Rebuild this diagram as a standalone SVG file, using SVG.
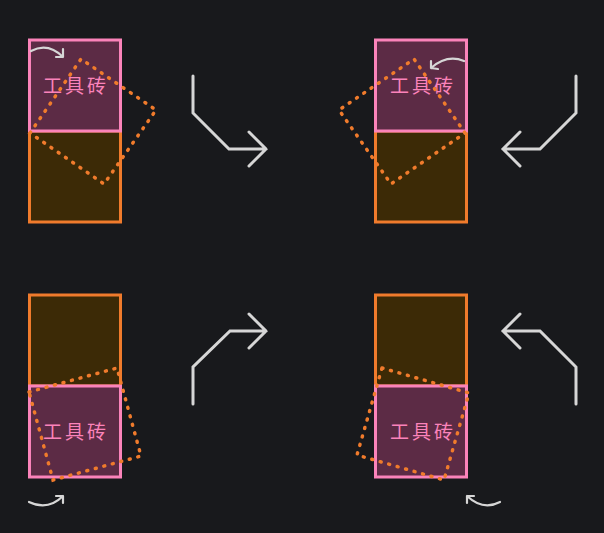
<svg xmlns="http://www.w3.org/2000/svg" width="604" height="533" viewBox="0 0 604 533">
<style>
.bg{fill:#18191c}
.pink{fill:#5c2b45;stroke:#fb83ba;stroke-width:3}
.orange{fill:#3c2a06;stroke:#f07b2c;stroke-width:3}
.dot{fill:none;stroke:#f07b2c;stroke-width:3.5;stroke-linecap:round;stroke-dasharray:1 7.8}
.lbl{fill:#fb83ba;font-family:"Noto Sans CJK SC","Noto Sans",sans-serif;font-size:19px;letter-spacing:3px;text-anchor:middle}
.big{fill:none;stroke:#d6d6d6;stroke-width:3;stroke-linecap:round;stroke-linejoin:miter}
.small{fill:none;stroke:#d6d6d6;stroke-width:2.2;stroke-linecap:round;stroke-linejoin:round}
</style>
<rect class="bg" x="0" y="0" width="604" height="533"/>
<g id="tile-top-left">
<rect class="orange" x="29.5" y="131" width="91" height="91"/>
<rect class="pink" x="29.5" y="40" width="91" height="91"/>
<text class="lbl" x="76" y="93">工具砖</text>
<polygon class="dot" points="30,133 81,59 156,110 104,184"/>
<path class="small" d="M31,51 Q48,42 63,57 M63,49 L63,57 L56,57"/>
</g>
<g id="tile-top-right">
<rect class="orange" x="375.5" y="131" width="91" height="91"/>
<rect class="pink" x="375.5" y="40" width="91" height="91"/>
<text class="lbl" x="423" y="93">工具砖</text>
<polygon class="dot" points="465,133 414,59 339,110 391,184"/>
<path class="small" d="M464,61 Q447,54 431,68 M431,61 L431,68 L438,69"/>
</g>
<g id="tile-bottom-left">
<rect class="orange" x="29.5" y="295" width="91" height="91"/>
<rect class="pink" x="29.5" y="386" width="91" height="91"/>
<text class="lbl" x="76" y="439">工具砖</text>
<polygon class="dot" points="29,392 117,368 141,456 53,480"/>
<path class="small" d="M29,502 Q48,511 63,496 M56,496 L63,496 L63,503"/>
</g>
<g id="tile-bottom-right">
<rect class="orange" x="375.5" y="295" width="91" height="91"/>
<rect class="pink" x="375.5" y="386" width="91" height="91"/>
<text class="lbl" x="423" y="439">工具砖</text>
<polygon class="dot" points="382,368 469,393 444,480 357,455"/>
<path class="small" d="M500,502 Q483,511 467,496 M474,496 L467,496 L467,503"/>
</g>
<g id="connectors">
<path class="big" d="M193,76 L193,113 L229,149 L266,149 M249,132 L266,149 L249,166"/>
<path class="big" d="M576,76 L576,113 L540,149 L503,149 M520,132 L503,149 L520,166"/>
<path class="big" d="M193,404 L193,367 L230,331 L266,331 M249,314 L266,331 L249,348"/>
<path class="big" d="M576,404 L576,367 L540,331 L503,331 M520,314 L503,331 L520,348"/>
</g>
</svg>
